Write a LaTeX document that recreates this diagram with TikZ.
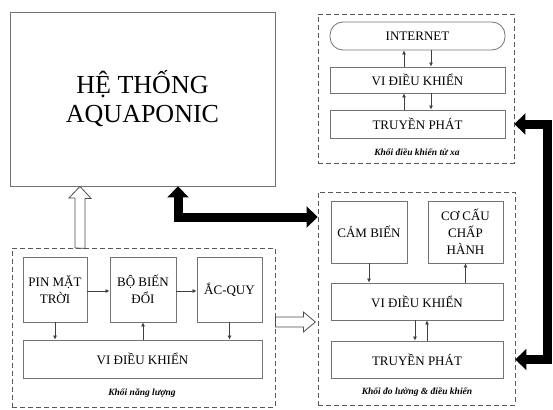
\documentclass[tikz,border=0pt]{standalone}
\usepackage{fontspec}
\setmainfont{Liberation Serif}
\usepackage{tikz}
\usetikzlibrary{arrows.meta}

\begin{document}
\begin{tikzpicture}[x=1pt,y=-1pt,
  hop/.style={draw=black!55, line width=0.8pt, inner sep=2pt, align=center,
    font=\fontsize{13}{17}\selectfont},
  khoi/.style={draw=black!65, line width=0.8pt, dash pattern=on 5pt off 3pt, inner sep=0pt},
  chuthich/.style={font=\fontsize{9.5}{11}\selectfont\bfseries\itshape},
  sarr/.style={-{Latex[length=4pt,width=4pt]}, line width=0.7pt, black!75},
  darr/.style={{Triangle[length=11pt,width=21pt]}-{Triangle[length=11pt,width=21pt]}, line width=9pt},
  rong/.style={draw=black!70, line width=0.8pt, fill=white}]

\useasboundingbox (0,0) rectangle (553,409);

% Hệ thống aquaponic
\node[hop, minimum width=265pt, minimum height=174pt, font=\fontsize{26}{29}\selectfont]
  (sys) at (142.5,99) {HỆ THỐNG\\AQUAPONIC};

% Khối điều khiển từ xa
\node[khoi, minimum width=196pt, minimum height=149pt] (tblk) at (416,88.5) {};
\node[hop, rounded corners=13pt, minimum width=175pt, minimum height=28pt] (inet) at (417.5,36) {INTERNET};
\node[hop, minimum width=175pt, minimum height=26pt] (vdk1) at (417.5,80) {VI ĐIỀU KHIỂN};
\node[hop, minimum width=175pt, minimum height=28pt] (tp1) at (417.5,124) {TRUYỀN PHÁT};
\node[chuthich] (cap1) at (417,152) {Khối điều khiển từ xa};

% Khối đo lường & điều khiển
\node[khoi, minimum width=197pt, minimum height=213pt] (bblk) at (416.5,298.5) {};
\node[hop, minimum width=76pt, minimum height=62pt] (cb) at (369,232) {CẢM BIẾN};
\node[hop, minimum width=75pt, minimum height=62pt] (cc) at (465.5,232) {CƠ CẤU\\CHẤP\\HÀNH};
\node[hop, minimum width=172pt, minimum height=37pt] (vdk2) at (417,301.5) {VI ĐIỀU KHIỂN};
\node[hop, minimum width=172pt, minimum height=37pt] (tp2) at (417,359.5) {TRUYỀN PHÁT};
\node[chuthich] (cap2) at (417,392) {Khối đo lường \& điều khiển};

% Khối năng lượng
\node[khoi, minimum width=263pt, minimum height=159pt] (lblk) at (143.5,327.5) {};
\node[hop, minimum width=64pt, minimum height=65pt] (pin) at (55,289.5) {PIN MẶT\\TRỜI};
\node[hop, minimum width=66pt, minimum height=65pt] (bbd) at (143,289.5) {BỘ BIẾN\\ĐỔI};
\node[hop, minimum width=65pt, minimum height=65pt] (acq) at (229.5,289.5) {ẮC-QUY};
\node[hop, minimum width=239pt, minimum height=38pt] (vdk3) at (142.5,359) {VI ĐIỀU KHIỂN};
\node[chuthich] (cap3) at (142,393) {Khối năng lượng};

% Mũi tên nhỏ
\coordinate (xa) at (404,0);
\coordinate (xb) at (431,0);
\draw[sarr] (vdk1.north -| xa) -- (inet.south -| xa);
\draw[sarr] (inet.south -| xb) -- (vdk1.north -| xb);
\draw[sarr] (tp1.north -| xa) -- (vdk1.south -| xa);
\draw[sarr] (vdk1.south -| xb) -- (tp1.north -| xb);

\coordinate (xc) at (415,0);
\coordinate (xd) at (427,0);
\draw[sarr] (cb.south) -- (cb.south |- vdk2.north);
\draw[sarr] (vdk2.north -| cc) -- (cc.south);
\draw[sarr] (vdk2.south -| xc) -- (tp2.north -| xc);
\draw[sarr] (tp2.north -| xd) -- (vdk2.south -| xd);

\draw[sarr] (pin.east |- 0,291) -- (bbd.west |- 0,291);
\draw[sarr] (bbd.east |- 0,291) -- (acq.west |- 0,291);
\draw[sarr] (pin.south) -- (pin.south |- vdk3.north);
\draw[sarr] (vdk3.north -| bbd) -- (bbd.south);
\draw[sarr] (acq.south) -- (acq.south |- vdk3.north);

% Mũi tên rỗng
\coordinate (up0) at (80,248);
\draw[rong] (up0) ++(-5,0) -- ++(0,-50) -- ++(-6,0) -- (sys.south -| up0)
  -- ++(11,12) -- ++(-6,0) -- ++(0,50) -- cycle;
\coordinate (hr) at (0,322);
\draw[rong] (lblk.east |- hr) ++(0,-5) -- ++(28,0) -- ++(0,-5) -- ++(12,10)
  -- ++(-12,10) -- ++(0,-5) -- ++(-28,0) -- cycle;

% Mũi tên đen
\coordinate (bk) at (178,217);
\draw[darr] (sys.south -| bk) |- (bblk.west |- bk);
\coordinate (rc) at (547,124);
\draw[darr] (tblk.east |- tp1) -- (rc) |- (bblk.east |- tp2);

\end{tikzpicture}
\end{document}
